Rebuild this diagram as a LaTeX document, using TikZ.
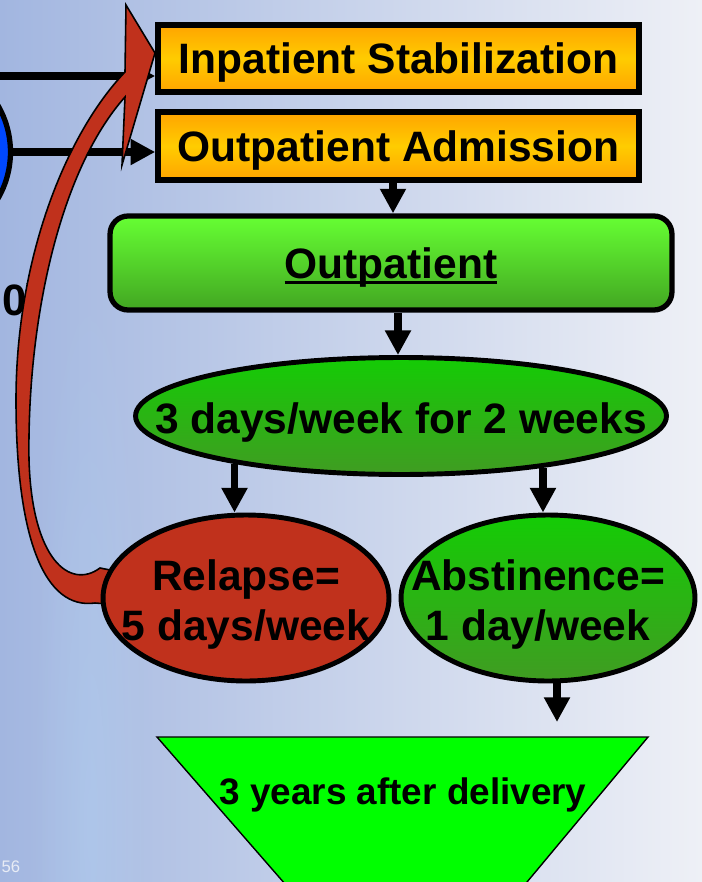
\documentclass[tikz,border=0pt]{standalone}
\usepackage{fontspec}
\setmainfont{Liberation Sans}
\usetikzlibrary{arrows.meta,shapes.geometric,fadings}
\newcommand{\zerowd}[2][0pt]{\makebox[0pt]{\hspace{#1}\raisebox{-10.5pt}[0pt][0pt]{\begin{tabular}{@{}c@{}}#2\end{tabular}}}}
\newcommand{\ulbold}[1]{\setbox0\hbox{#1}\rlap{\rule[-3.4pt]{\wd0}{1.7pt}}\box0}
\tikzfading[name=streakfade,inner color=transparent!55,outer color=transparent!100]
\definecolor{boxorange}{RGB}{255,164,0}
\definecolor{boxyellow}{RGB}{255,204,0}
\definecolor{lightgreen}{RGB}{102,255,51}
\definecolor{darkgreen}{RGB}{66,166,34}
\definecolor{ovalgreen}{RGB}{20,204,5}
\definecolor{ovaldark}{RGB}{64,156,34}
\definecolor{relapsered}{RGB}{192,49,28}
\definecolor{brightgreen}{RGB}{0,255,0}
\definecolor{bgleft}{RGB}{162,182,224}
\definecolor{bgright}{RGB}{238,240,246}
\definecolor{streak}{RGB}{176,208,242}
\definecolor{srcblue}{RGB}{0,72,255}
\definecolor{pagegray}{RGB}{232,236,245}

\begin{document}
\begin{tikzpicture}[x=0.02cm,y=-0.02cm,
    font=\fontsize{24.2}{28.5}\selectfont\bfseries,
    box/.style={draw,line width=3.2pt,inner sep=0pt,text depth=0pt,minimum width=9.62cm,minimum height=1.35cm,
        top color=boxorange,bottom color=boxorange,middle color=boxyellow},
    oval/.style={draw,ellipse,line width=2.8pt,inner sep=0pt,minimum height=3.32cm},
    flow/.style={line width=4.2pt,-{Triangle[width=14pt,length=14pt]}}
    ]
\useasboundingbox (0,0) rectangle (702,882);
\clip (0,0) rectangle (702,882);
\shade[left color=bgleft,right color=bgright] (0,0) rectangle (702,882);
\fill[streak,path fading=streakfade,fit fading=true] (30,250) rectangle (150,1400);
% admission boxes
\node[box] (inpat) at (398.5,58.5) {Inpatient Stabilization};
\node[box] (outadm) at (398.5,146) {Outpatient Admission};
\node[draw,circle,fill=srcblue,line width=3pt,minimum size=3.7cm] (src) at (-82,152) {};
\node[anchor=west,inner sep=0pt,font=\fontsize{25}{30}\selectfont\bfseries] (cnt) at (2,304) {0)};
\coordinate (edge) at (0,76);
\draw[flow] (edge) -- (edge -| inpat.west);
\draw[flow] (src) -- (outadm.west |- src);
% outpatient program
\node[draw,rounded corners=0.36cm,line width=3pt,text depth=0pt,minimum width=11.24cm,minimum height=1.88cm,
    top color=lightgreen,bottom color=darkgreen] (outp) at (391,263) {\ulbold{Outpatient}};
\node[oval,minimum width=10.62cm,minimum height=2.34cm,top color=ovalgreen,bottom color=ovaldark]
    (days) at (401,416) {\zerowd{3 days/week for 2 weeks}};
\draw[flow] ([xshift=-0.11cm]outadm.south) -- ([xshift=-0.11cm]outadm.south |- outp.north);
\draw[flow] ([xshift=0.14cm]outp.south) -- ([xshift=0.14cm]outp.south |- days.north);
% relapse goes back to inpatient
\draw[fill=relapsered,line width=0.9pt,line join=miter] (115,571) -- (100,568)
    .. controls (70,590) and (32,560) .. (29,460)
    .. controls (27,320) and (60,170) .. (125,97)
    -- (122,165) -- (155,53) -- (126,5) -- (125,72)
    .. controls (65,135) and (16,260) .. (16,400)
    .. controls (16,540) and (45,610) .. (95,603) -- (108,604) -- cycle;
\node[oval,minimum width=5.72cm,fill=relapsered] (relapse) at (246,598) {\zerowd{Relapse=\\5 days/week}};
\node[oval,minimum width=5.88cm,top color=ovalgreen,bottom color=ovaldark]
    (abst) at (548,598) {\zerowd[-0.4cm]{Abstinence=\\1 day/week}};
\draw[flow] (days.196) -- (days.196 |- relapse.north);
\draw[flow] (days.340) -- (days.340 |- abst.north);
% follow up
\coordinate (tip) at (557,722);
\draw[flow] (abst.south -| tip) -- (tip);
\draw[fill=brightgreen,line width=0.8pt] (157,737) -- (648,737) -- (512,900) -- (299,900) -- cycle;
\node[font=\fontsize{21}{25}\selectfont\bfseries] (years) at (403,795) {3 years after delivery};
\node[font=\fontsize{9.5}{11}\selectfont,text=pagegray] (num) at (11,867) {56};
\end{tikzpicture}
\end{document}
